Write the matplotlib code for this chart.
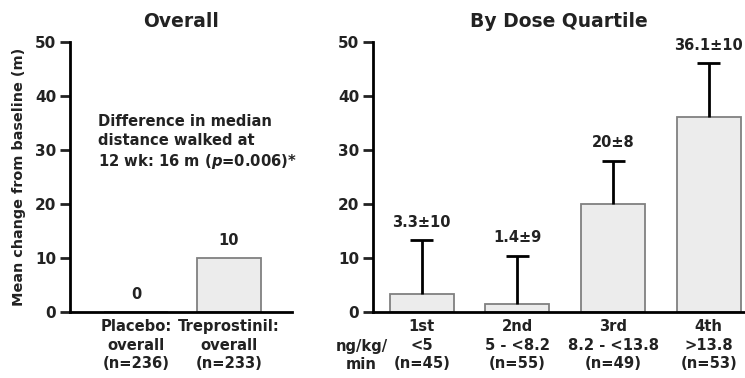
import numpy as np
import matplotlib.pyplot as plt

plt.rcParams['font.family'] = ['DejaVu Sans']
plt.rcParams['font.weight'] = 'bold'
plt.rcParams['mathtext.fontset'] = 'dejavusans'

overall_labels = ['Placebo:\noverall\n(n=236)', 'Treprostinil:\noverall\n(n=233)']
overall_values = [0, 10]
overall_text = ['0', '10']

quartile_labels = ['1st\n<5\n(n=45)', '2nd\n5 - <8.2\n(n=55)',
                   '3rd\n8.2 - <13.8\n(n=49)', '4th\n>13.8\n(n=53)']
quartile_means = [3.3, 1.4, 20, 36.1]
quartile_err = [10, 9, 8, 10]
quartile_text = ['3.3\u00b110', '1.4\u00b19', '20\u00b18', '36.1\u00b110']

txt = '#222222'
fill = '#ececec'
edge = '#808080'

fig = plt.figure(figsize=(7.45, 3.78), dpi=100)
ax1 = fig.add_axes([0.094, 0.175, 0.298, 0.714])
ax2 = fig.add_axes([0.5007, 0.175, 0.4993, 0.714])

for ax in (ax1, ax2):
    ax.set_ylim(0, 50)
    ax.set_yticks([0, 10, 20, 30, 40, 50])
    ax.spines['top'].set_visible(False)
    ax.spines['right'].set_visible(False)
    ax.spines['left'].set_linewidth(2)
    ax.spines['bottom'].set_linewidth(2)
    ax.tick_params(axis='y', direction='out', length=7, width=2, labelsize=11, colors=txt, pad=3)
    ax.tick_params(axis='x', length=0, labelsize=10.6, colors=txt, pad=5)
    for lab in ax.get_yticklabels():
        lab.set_fontweight('bold')

# left panel
x1 = np.arange(len(overall_values))
ax1.bar(x1, overall_values, width=0.69, color=fill, edgecolor=edge, linewidth=1.3)
for xi, v, t in zip(x1, overall_values, overall_text):
    ax1.text(xi, v + 1.8, t, ha='center', va='bottom', fontsize=10.5, fontweight='bold', color=txt)
ax1.set_xlim(-0.71, 1.68)
ax1.set_xticks(x1)
ax1.set_xticklabels(overall_labels, fontweight='bold', linespacing=1.32)
ax1.set_title('Overall', fontsize=13.5, fontweight='bold', color=txt, pad=11)
ax1.set_ylabel('Mean change from baseline (m)', fontsize=10.4, fontweight='bold', color=txt, labelpad=6)
ax1.text(-0.41, 36.6, 'Difference in median\ndistance walked at\n12 wk: 16 m ($\\mathbfit{p}$=0.006)*',
         ha='left', va='top', fontsize=10.6, fontweight='bold', color=txt, linespacing=1.3)

# right panel
x2 = np.arange(len(quartile_means))
tops = np.array(quartile_means) + np.array(quartile_err)
ax2.bar(x2, quartile_means, width=0.67, color=fill, edgecolor=edge, linewidth=1.3)
ax2.vlines(x2, quartile_means, tops, color='black', linewidth=2)
ax2.hlines(tops, x2 - 0.12, x2 + 0.12, color='black', linewidth=2)
for xi, top, t in zip(x2, tops, quartile_text):
    ax2.text(xi, top + 1.9, t, ha='center', va='bottom', fontsize=10.5, fontweight='bold', color=txt)
ax2.set_xlim(-0.51, 3.38)
ax2.set_xticks(x2)
ax2.set_xticklabels(quartile_labels, fontweight='bold', linespacing=1.32)
ax2.set_title('By Dose Quartile', fontsize=13.5, fontweight='bold', color=txt, pad=11)
ax2.text(-0.63, -8.1, 'ng/kg/\nmin', ha='center', va='center', fontsize=10.6, fontweight='bold',
         color=txt, linespacing=1.32, clip_on=False)

fig.savefig('out.png', dpi=100)
